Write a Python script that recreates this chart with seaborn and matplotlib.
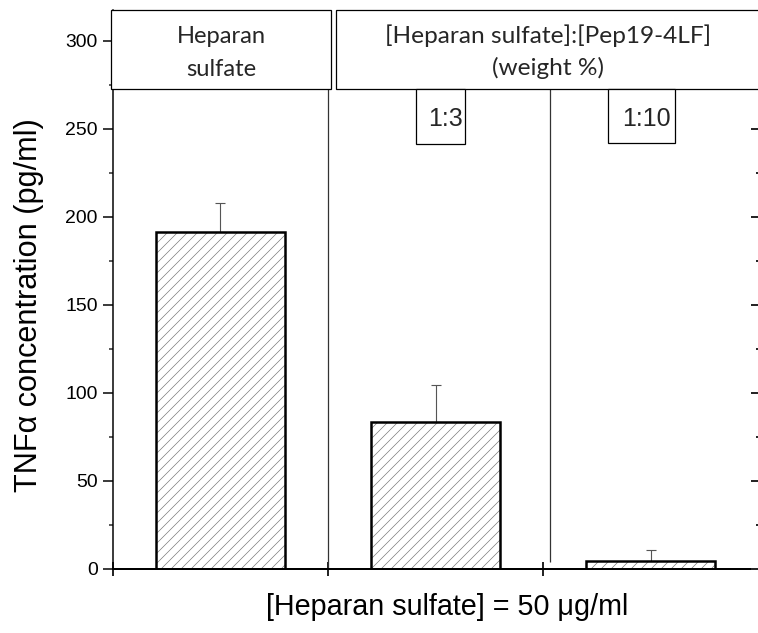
import matplotlib
matplotlib.use("Agg")
import matplotlib.pyplot as plt
import seaborn as sns
import pandas as pd
import numpy as np
from matplotlib.patches import Rectangle
from matplotlib.ticker import MultipleLocator

# ---------------- data ----------------
groups = ["Heparan sulfate", "1:3", "1:10"]
tnf_mean = [191.2, 83.4, 4.4]
tnf_err = [16.5, 20.9, 6.0]
ytick_values = [0, 50, 100, 150, 200, 250, 300]
panel_left = ["Heparan", "sulfate"]
panel_right = ["[Heparan sulfate]:[Pep19-4LF]", "(weight %)"]
ratio_labels = ["1:3", "1:10"]
ylabel = "TNFα concentration (pg/ml)"
xlabel = "[Heparan sulfate] = 50 μg/ml"

# ---------------- style ----------------
sns.set_style("ticks")
plt.rcParams['font.family'] = ['Liberation Sans', 'DejaVu Sans']
plt.rcParams['hatch.linewidth'] = 0.5
plt.rcParams['hatch.color'] = '#6e6e6e'

W, H, DPI = 758, 633, 90
fig = plt.figure(figsize=(W / DPI, H / DPI), dpi=DPI)
fig.patch.set_facecolor('white')


def fx(p):
    return p / W


def fy(p):
    return 1 - p / H


ax_l, ax_r, ax_t, ax_b = 112.5, 758.5, 10, 568.5
px_per_cat = 216.5
px_per_unit = 1.7593
ax = fig.add_axes([fx(ax_l), fy(ax_b), (ax_r - ax_l) / W, (ax_b - ax_t) / H])
ax.set_facecolor('white')

df = pd.DataFrame({"group": groups, "tnf": tnf_mean})
sns.barplot(data=df, x="group", y="tnf", order=groups, color="white",
            edgecolor="#707070", linewidth=0, hatch="///", width=0.6,
            saturation=1, errorbar=None, ax=ax, zorder=2)
n_hatched = len(ax.patches)
sns.barplot(data=df, x="group", y="tnf", order=groups, fill=False,
            color="black", linewidth=2, width=0.6, errorbar=None,
            ax=ax, zorder=3)

centers = [p.get_x() + p.get_width() / 2 for p in ax.patches[:n_hatched]]
ax.errorbar(centers, tnf_mean, yerr=[np.zeros(len(tnf_err)), tnf_err],
            fmt='none', ecolor='#555555', elinewidth=0.9, capsize=4,
            capthick=0.9, zorder=1)

xmax = -0.5 + (ax_r - ax_l) / px_per_cat
ymax = (ax_b - ax_t) / px_per_unit
ax.set_xlim(-0.5, xmax)
ax.set_ylim(0, ymax)

ax.set_xticks([-0.5, 0.5, 1.5, 2.5])
ax.set_xticklabels([])
ax.tick_params(axis='x', which='major', direction='inout', length=11.2,
               width=1.6, bottom=True, top=False)
ax.set_yticks(ytick_values)
ax.yaxis.set_minor_locator(MultipleLocator(25))
ax.tick_params(axis='y', which='major', direction='out', length=8,
               width=1.2, labelsize=15.5, pad=4, left=True, right=False,
               colors='black')
ax.tick_params(axis='y', which='minor', direction='out', length=3.2,
               width=1.2, left=True, right=False)
ax.spines['top'].set_visible(False)
ax.spines['right'].set_visible(False)
ax.spines['left'].set_linewidth(1.2)
ax.spines['bottom'].set_linewidth(1.6)
ax.spines['left'].set_color('black')
ax.spines['bottom'].set_color('black')

# separator lines
box_bottom_data = (ax_b - 89) / px_per_unit
ax.vlines([0.5], 0, box_bottom_data, colors='#333333', linewidth=1.0, zorder=1)
ax.vlines([-0.5 + (552 - ax_l) / px_per_cat], (ax_b - 562) / px_per_unit,
          box_bottom_data, colors='#333333', linewidth=1.0, zorder=1)

# right-hand inward ticks
ax2 = ax.twinx()
ax2.set_ylim(0, ymax)
ax2.set_yticks(ytick_values)
ax2.yaxis.set_minor_locator(MultipleLocator(25))
ax2.tick_params(axis='y', which='major', direction='in', length=6.4,
                width=1.6, labelright=False, right=True, left=False)
ax2.tick_params(axis='y', which='minor', direction='in', length=2.4,
                width=1.6, right=True, left=False)
for s in ax2.spines.values():
    s.set_visible(False)

# labels
ax.set_xlabel(xlabel, fontsize=23, color='black')
ax.xaxis.label.set_va('baseline')
ax.xaxis.set_label_coords((447 - ax_l) / (ax_r - ax_l), -(615 - ax_b) / (ax_b - ax_t))
ax.set_ylabel(ylabel, fontsize=24.5, color='black')
ax.yaxis.label.set_va('center')
ax.yaxis.label.set_ha('center')
ax.yaxis.set_label_coords((29 - ax_l) / (ax_r - ax_l), (ax_b - 305) / (ax_b - ax_t))


# header boxes (figure pixel coordinates)
def box(x0, y0, x1, y1):
    r = Rectangle((fx(x0), fy(y1)), (x1 - x0) / W, (y1 - y0) / H,
                  transform=fig.transFigure, facecolor='white',
                  edgecolor='black', linewidth=1.0, zorder=10)
    fig.add_artist(r)


box(111, 10, 331, 89)
box(336, 10, 790, 89)
box(416, 89, 465, 144)
box(608, 89, 675, 143)

hdr_font = ['Lato', 'DejaVu Sans']
fig.text(fx(221), fy(43), panel_left[0], ha='center', va='baseline',
         fontsize=19, family=hdr_font, zorder=11)
fig.text(fx(221), fy(76), panel_left[1], ha='center', va='baseline',
         fontsize=19, family=hdr_font, zorder=11)
fig.text(fx(548), fy(43), panel_right[0], ha='center', va='baseline',
         fontsize=19.5, family=hdr_font, zorder=11)
fig.text(fx(548), fy(75), panel_right[1], ha='center', va='baseline',
         fontsize=19.5, family=hdr_font, zorder=11)
fig.text(fx(445), fy(126), ratio_labels[0], ha='center', va='baseline',
         fontsize=20, zorder=11)
fig.text(fx(646), fy(126), ratio_labels[1], ha='center', va='baseline',
         fontsize=20, zorder=11)

fig.savefig("out.png", dpi=DPI, facecolor='white')
